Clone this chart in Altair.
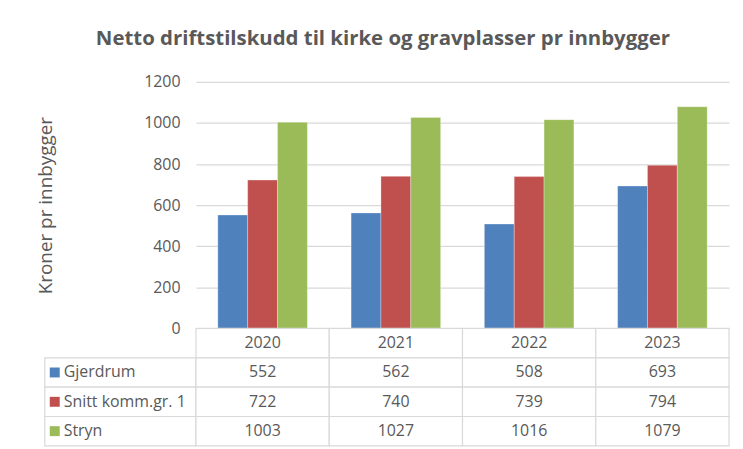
import altair as alt
import pandas as pd

years = ["2020", "2021", "2022", "2023"]
series = ["Gjerdrum", "Snitt komm.gr. 1", "Stryn"]
gjerdrum = [552, 562, 508, 693]
snitt = [722, 740, 739, 794]
stryn = [1003, 1027, 1016, 1079]
colors = ["#4F81BD", "#C0504D", "#9BBB59"]

values = {"Gjerdrum": gjerdrum, "Snitt komm.gr. 1": snitt, "Stryn": stryn}
HEADER = " "
rows = [HEADER] + series

df = pd.DataFrame(
    [{"year": y, "series": s, "value": values[s][i]} for s in series for i, y in enumerate(years)]
)
table_df = pd.DataFrame(
    [{"year": y, "row": HEADER, "text": y} for y in years]
    + [{"year": y, "row": s, "text": str(values[s][i])} for s in series for i, y in enumerate(years)]
)
lc_df = pd.DataFrame([{"row": s, "series": s} for s in series])

FONT = "Open Sans"
GREY = "#595959"
LINE = "#d9d9d9"
W, H = 536, 248
TH = 118
LW = 152

color_scale = alt.Scale(domain=series, range=colors)
no_frame = alt.ViewBackground(stroke="transparent", strokeWidth=0)

spacer = alt.Chart(pd.DataFrame({"a": [0]})).mark_text(text="").encode(
    x=alt.value(0)
).properties(width=LW, height=H, view=no_frame)

bars = alt.Chart(df).mark_bar(stroke="white", strokeWidth=0.6, strokeOpacity=0.5).encode(
    x=alt.X("year:N", scale=alt.Scale(domain=years, paddingInner=0.328, paddingOuter=0.164), axis=None),
    xOffset=alt.XOffset("series:N", scale=alt.Scale(domain=series, paddingInner=0, paddingOuter=0)),
    y=alt.Y(
        "value:Q",
        scale=alt.Scale(domain=[0, 1200], nice=False),
        axis=alt.Axis(
            values=[0, 200, 400, 600, 800, 1000, 1200],
            format="d",
            title="Kroner pr innbygger",
            grid=True,
            gridColor=LINE,
            gridWidth=1.2,
            domain=False,
            ticks=False,
            labelPadding=16,
            titlePadding=89,
            labelFontSize=16,
            titleFontSize=19,
            labelColor=GREY,
            titleColor=GREY,
            titleFontWeight="normal",
            labelFont=FONT,
            titleFont=FONT,
        ),
    ),
    color=alt.Color("series:N", scale=color_scale, legend=None),
).properties(width=W, height=H, view=no_frame)

row_scale = alt.Scale(domain=rows, paddingInner=0, paddingOuter=0)
year_scale = alt.Scale(domain=years, paddingInner=0, paddingOuter=0)

cells = alt.Chart(table_df).mark_rect(fill="white", stroke=LINE, strokeWidth=1.2).encode(
    x=alt.X("year:N", scale=year_scale, axis=None),
    y=alt.Y("row:N", scale=row_scale, axis=None),
)
cell_text = alt.Chart(table_df).mark_text(fontSize=16, color=GREY, font=FONT).encode(
    x=alt.X("year:N", scale=year_scale, axis=None),
    y=alt.Y("row:N", scale=row_scale, axis=None),
    text="text:N",
)
table = alt.layer(cells, cell_text).properties(width=W, height=TH, view=no_frame)

lc_rect = alt.Chart(lc_df).mark_rect(fill="white", stroke=LINE, strokeWidth=1.2).encode(
    y=alt.Y("row:N", scale=row_scale, axis=None),
)
lc_sq = alt.Chart(lc_df).mark_square(size=100, opacity=1).encode(
    x=alt.value(10),
    y=alt.Y("row:N", scale=row_scale, axis=None),
    color=alt.Color("series:N", scale=color_scale, legend=None),
)
lc_text = alt.Chart(lc_df).mark_text(align="left", fontSize=16, color=GREY, font=FONT).encode(
    x=alt.value(19),
    y=alt.Y("row:N", scale=row_scale, axis=None),
    text="series:N",
)
labelcol = alt.layer(lc_rect, lc_sq, lc_text).properties(width=LW, height=TH, view=no_frame)

chart = alt.concat(
    spacer, bars, labelcol, table,
    columns=2,
    spacing=0,
    bounds="flush",
    title=alt.Title(
        "Netto driftstilskudd til kirke og gravplasser pr innbygger",
        fontSize=20.5,
        fontWeight="bold",
        color=GREY,
        font=FONT,
        anchor="middle",
        offset=25,
    ),
).properties(
    padding={"left": 28, "top": 19, "right": 5, "bottom": 5}
).configure_view(stroke=None).configure(font=FONT)

chart.save("out.html", embed_options={"renderer": "svg", "actions": False})
